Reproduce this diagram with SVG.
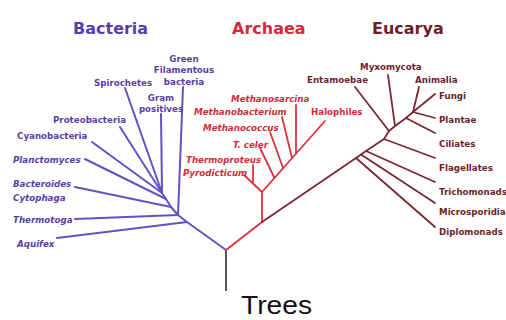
<svg xmlns="http://www.w3.org/2000/svg" width="506" height="320" viewBox="0 0 506 320">
<style>
.lbl{font-family:"DejaVu Sans",sans-serif;font-weight:bold;font-size:8.7px}
.it{font-style:italic}
.ttl{font-family:"DejaVu Sans",sans-serif;font-weight:bold;font-size:16px}
.b{fill:#5a3eaa}
.a{fill:#d62a3a}
.e{fill:#6e1f2a}
.lb{stroke:#6352c4;stroke-width:2;fill:none;stroke-linecap:round;stroke-linejoin:round}
.la{stroke:#dc3240;stroke-width:1.8;fill:none;stroke-linecap:round;stroke-linejoin:round}
.le{stroke:#7c2832;stroke-width:1.8;fill:none;stroke-linecap:round;stroke-linejoin:round}
</style>
<rect width="506" height="320" fill="#ffffff"/>
<g id="connectors">
  <path d="M226,250 L226,291" stroke="#444" stroke-width="1.8" fill="none"/>
  <!-- Bacteria -->
  <path class="lb" d="M226,250 L187,222 L178,215 L171,207 L166,199 L162,193"/>
  <path class="lb" d="M187,222 L57,238"/>
  <path class="lb" d="M178,215 L75,219"/>
  <path class="lb" d="M178,215 L183,87"/>
  <path class="lb" d="M171,207 L75,187"/>
  <path class="lb" d="M166,199 L85,159"/>
  <path class="lb" d="M162,193 L92,142"/>
  <path class="lb" d="M162,193 L120,127"/>
  <path class="lb" d="M162,193 L125,88"/>
  <path class="lb" d="M162,193 L161,114"/>
  <!-- Archaea -->
  <path class="la" d="M226,250 L262,222 L262,192 L325,121"/>
  <path class="la" d="M262,192 L244,175"/>
  <path class="la" d="M253,183 L253,165"/>
  <path class="la" d="M274.5,178 L260,148"/>
  <path class="la" d="M283,168 L270,132"/>
  <path class="la" d="M292,158 L282,117"/>
  <path class="la" d="M296,153 L296,105"/>
  <!-- Eucarya -->
  <path class="le" d="M262,222 L356,158 L361,154.5 L366,151 L384,139 L389,131 L395,126 L406,118 L413,112"/>
  <path class="le" d="M356,158 L435,227"/>
  <path class="le" d="M361,154.5 L435,203"/>
  <path class="le" d="M366,151 L435,182"/>
  <path class="le" d="M384,139 L435,158"/>
  <path class="le" d="M389,131 L355,87"/>
  <path class="le" d="M395,126 L388,75"/>
  <path class="le" d="M406,118 L435,133"/>
  <path class="le" d="M413,112 L419,87"/>
  <path class="le" d="M413,112 L435,94"/>
  <path class="le" d="M413,112 L435,118"/>
</g>
<g id="title-bacteria"><text class="ttl b" x="73" y="34">Bacteria</text></g>
<g id="title-archaea"><text class="ttl a" x="232" y="34">Archaea</text></g>
<g id="title-eucarya"><text class="ttl e" x="372" y="34">Eucarya</text></g>
<g id="green-filamentous"><text class="lbl b" text-anchor="middle"><tspan x="184" y="61.5">Green</tspan><tspan x="184" y="73">Filamentous</tspan><tspan x="184" y="84.5">bacteria</tspan></text></g>
<g id="spirochetes"><text class="lbl b" x="94" y="86">Spirochetes</text></g>
<g id="gram-positives"><text class="lbl b" text-anchor="middle"><tspan x="161" y="100.5">Gram</tspan><tspan x="161" y="111.5">positives</tspan></text></g>
<g id="proteobacteria"><text class="lbl b" x="53" y="122.5">Proteobacteria</text></g>
<g id="cyanobacteria"><text class="lbl b" x="17" y="139">Cyanobacteria</text></g>
<g id="planctomyces"><text class="lbl it b" x="13" y="162.5">Planctomyces</text></g>
<g id="bacteroides"><text class="lbl it b"><tspan x="13" y="186.5">Bacteroides</tspan><tspan x="13" y="200.5">Cytophaga</tspan></text></g>
<g id="thermotoga"><text class="lbl it b" x="13" y="223">Thermotoga</text></g>
<g id="aquifex"><text class="lbl it b" x="17" y="247">Aquifex</text></g>
<g id="methanosarcina"><text class="lbl it a" x="231" y="102">Methanosarcina</text></g>
<g id="methanobacterium"><text class="lbl it a" x="194" y="115">Methanobacterium</text></g>
<g id="methanococcus"><text class="lbl it a" x="203" y="130.5">Methanococcus</text></g>
<g id="t-celer"><text class="lbl it a" x="233" y="147.5">T. celer</text></g>
<g id="thermoproteus"><text class="lbl it a" x="186" y="162.5">Thermoproteus</text></g>
<g id="pyrodicticum"><text class="lbl it a" x="183" y="175.5">Pyrodicticum</text></g>
<g id="halophiles"><text class="lbl a" x="311" y="114.5">Halophiles</text></g>
<g id="myxomycota"><text class="lbl e" x="360" y="70">Myxomycota</text></g>
<g id="entamoebae"><text class="lbl e" x="307" y="82.5">Entamoebae</text></g>
<g id="animalia"><text class="lbl e" x="415" y="82.5">Animalia</text></g>
<g id="fungi"><text class="lbl e" x="439" y="99">Fungi</text></g>
<g id="plantae"><text class="lbl e" x="439" y="122.5">Plantae</text></g>
<g id="ciliates"><text class="lbl e" x="439" y="147">Ciliates</text></g>
<g id="flagellates"><text class="lbl e" x="439" y="170.5">Flagellates</text></g>
<g id="trichomonads"><text class="lbl e" x="439" y="195">Trichomonads</text></g>
<g id="microsporidia"><text class="lbl e" x="439" y="215">Microsporidia</text></g>
<g id="diplomonads"><text class="lbl e" x="439" y="235">Diplomonads</text></g>
<g id="caption"><text x="241" y="313.5" font-family="'Liberation Sans',Arial,sans-serif" font-size="26" fill="#111" textLength="71" lengthAdjust="spacingAndGlyphs">Trees</text></g>
</svg>
